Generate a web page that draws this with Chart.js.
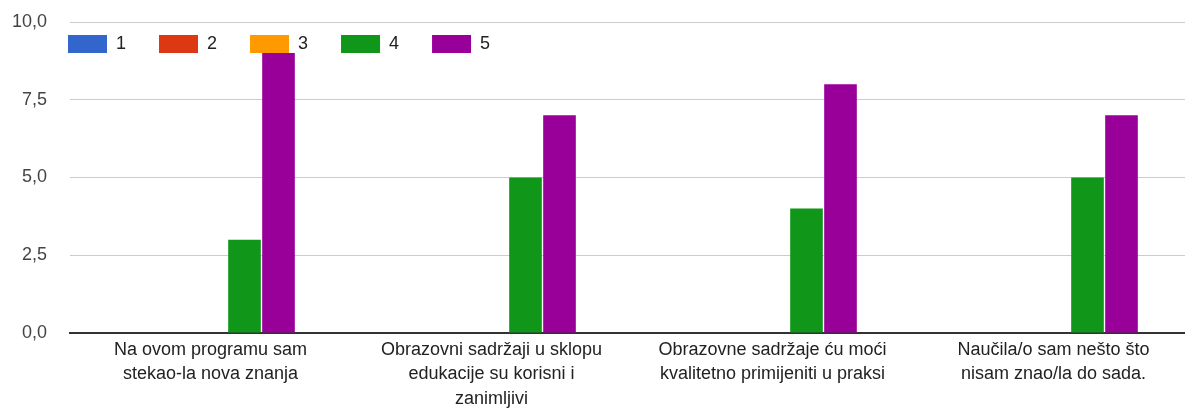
<!DOCTYPE html>
<html>
<head>
<meta charset="utf-8">
<script src="https://cdn.jsdelivr.net/npm/chart.js@4/dist/chart.umd.min.js"></script>
<style>
  html, body { margin: 0; padding: 0; background: #fff; overflow: hidden; }
  #wrap { position: relative; width: 1200px; height: 409px; }
</style>
</head>
<body>
<div id="wrap"><canvas id="barChart"></canvas></div>
<script>
// categories (wrapped the way they appear under the axis)
const categories = [
  ['Na ovom programu sam', 'stekao-la nova znanja'],
  ['Obrazovni sadržaji u sklopu', 'edukacije su korisni i', 'zanimljivi'],
  ['Obrazovne sadržaje ću moći', 'kvalitetno primijeniti u praksi'],
  ['Naučila/o sam nešto što', 'nisam znao/la do sada.']
];

const seriesNames = ['1', '2', '3', '4', '5'];
const series1 = [0, 0, 0, 0];
const series2 = [0, 0, 0, 0];
const series3 = [0, 0, 0, 0];
const series4 = [3, 5, 4, 5];
const series5 = [9, 7, 8, 7];

const yTicks = [0, 2.5, 5, 7.5, 10];

const colors = ['#3366cc', '#dc3912', '#ff9900', '#109618', '#990099'];
const allSeries = [series1, series2, series3, series4, series5];

// lay the in-plot legend out in one row and move it where the reference has it
const legendRow = {
  id: 'legendRow',
  beforeLayout(chart) {
    chart.legend.isHorizontal = () => true;
  },
  afterLayout(chart) {
    chart.legend.left += 35;
    chart.legend.top -= 20;
  }
};

const ctx = document.getElementById('barChart').getContext('2d');
new Chart(ctx, {
  type: 'bar',
  data: {
    labels: categories,
    datasets: allSeries.map((vals, i) => ({
      label: seriesNames[i],
      data: vals,
      backgroundColor: colors[i],
      borderWidth: 0,
      barPercentage: 0.96,
      categoryPercentage: 0.605,
    })),
  },
  options: {
    responsive: true,
    maintainAspectRatio: false,
    animation: false,
    layout: { padding: { left: 10, right: 6, top: 22, bottom: 0 } },
    plugins: {
      tooltip: { enabled: false },
      legend: {
        position: 'chartArea',
        align: 'start',
        labels: {
          boxWidth: 39,
          boxHeight: 18,
          padding: 33,
          color: '#222',
          font: { family: 'Arial, "Liberation Sans", sans-serif', size: 18 },
        },
      },
    },
    scales: {
      x: {
        grid: { display: false, drawTicks: false },
        border: { display: true, color: '#333', width: 2 },
        ticks: {
          color: '#222',
          padding: 5,
          maxRotation: 0,
          autoSkip: false,
          font: { family: 'Arial, "Liberation Sans", sans-serif', size: 18, lineHeight: 1.35 },
        },
        afterFit(scale) { scale.height = 76; },
      },
      y: {
        min: 0,
        max: 10,
        afterBuildTicks(scale) { scale.ticks = yTicks.map((v) => ({ value: v })); },
        grid: { color: '#cccccc', lineWidth: 1, drawTicks: false },
        border: { display: false },
        ticks: {
          color: '#444',
          padding: 23,
          font: { family: 'Arial, "Liberation Sans", sans-serif', size: 18 },
          callback: (v) => Number(v).toFixed(1).replace('.', ','),
        },
        afterFit(scale) {
          scale.width = 60;
          scale.paddingTop = 0;
          scale.paddingBottom = 0;
        },
      },
    },
  },
  plugins: [legendRow],
});
</script>
</body>
</html>
